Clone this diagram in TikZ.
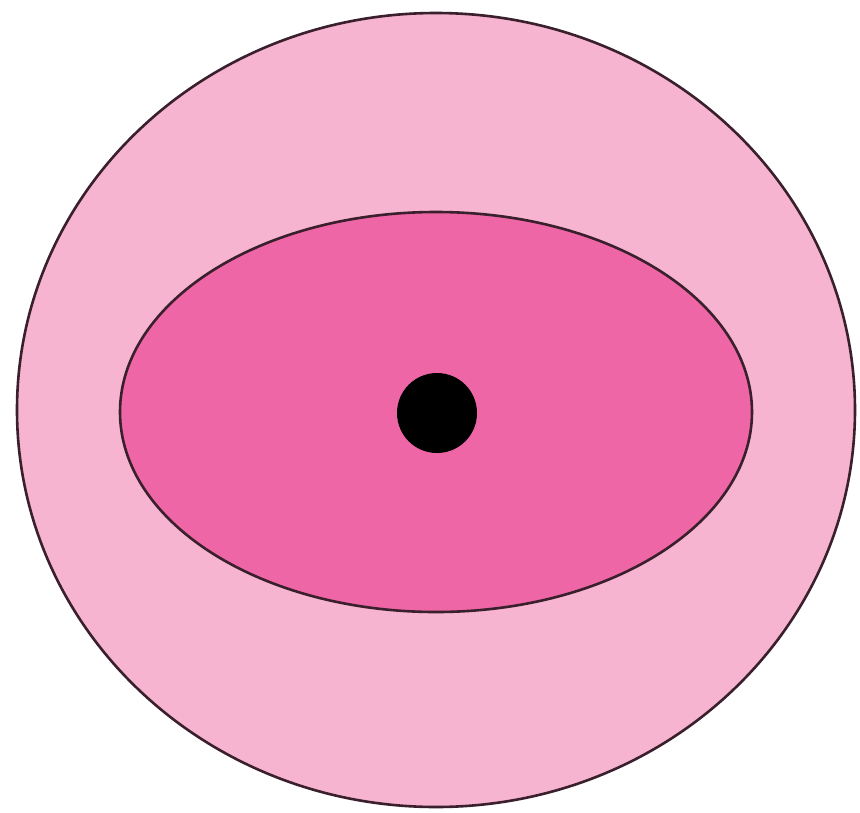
\documentclass[tikz,border=0pt]{standalone}
\definecolor{outerpink}{HTML}{F6B4D0}
\definecolor{innerpink}{HTML}{EE66A6}
\definecolor{edge}{HTML}{3A1F2C}
\begin{document}
\begin{tikzpicture}[x=1pt,y=-1pt,
  ring/.style={draw=edge,line width=2.6pt}]
\useasboundingbox (0,0) rectangle (860,812);
\fill[white] (0,0) rectangle (860,812);
\path[ring,fill=outerpink] (436,410) ellipse [x radius=419, y radius=397];
\path[ring,fill=innerpink] (436,412) ellipse [x radius=316, y radius=200];
\fill[black] (437,413) circle [radius=40];
\end{tikzpicture}
\end{document}
